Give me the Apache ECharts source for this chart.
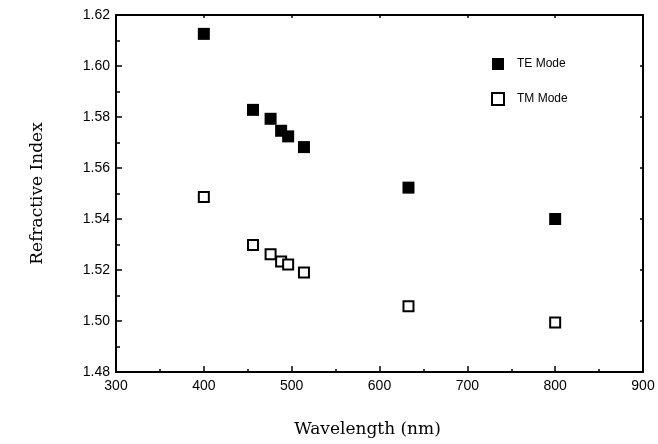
<!DOCTYPE html>
<html>
<head>
<meta charset="utf-8">
<script src="https://cdn.jsdelivr.net/npm/echarts@6/dist/echarts.min.js"></script>
<style>
  html, body { margin: 0; padding: 0; background: #fff; }
  #chart { width: 658px; height: 444px; }
</style>
</head>
<body>
<div id="chart"></div>
<script>
// 波长 (nm)
let wavelength = [400, 456, 476, 488, 496, 514, 633, 800]
// TE 模折射率
let teIndex = [1.6126, 1.5828, 1.5793, 1.5746, 1.5724, 1.5682, 1.5523, 1.5400]
// TM 模折射率
let tmIndex = [1.5486, 1.5298, 1.5262, 1.5233, 1.5222, 1.5190, 1.5058, 1.4994]

let teData = wavelength.map((w, i) => [w, teIndex[i]])
let tmData = wavelength.map((w, i) => [w, tmIndex[i]])

let myChart = echarts.init(document.getElementById('chart'))

let tickStyle = { color: '#000', width: 1.5 }

let option = {
  animation: false,
  backgroundColor: '#fff',
  grid: {
    left: 116,
    right: 15,
    top: 15,
    bottom: 72
  },
  legend: {
    orient: 'vertical',
    left: 486,
    top: 53,
    itemGap: 22,
    itemWidth: 12,
    itemHeight: 12,
    textStyle: {
      fontFamily: 'Liberation Sans',
      fontSize: 12,
      color: '#000',
      padding: [0, 0, 0, 8]
    },
    data: ['TE Mode', 'TM Mode']
  },
  xAxis: [
    {
      type: 'value',
      min: 300,
      max: 900,
      interval: 100,
      name: 'Wavelength (nm)',
      nameLocation: 'middle',
      nameGap: 49,
      nameTextStyle: { fontFamily: 'DejaVu Serif', fontSize: 17, color: '#000', padding: [0, 24, 0, 0] },
      axisLine: { lineStyle: { color: '#000', width: 2 } },
      axisTick: { inside: true, length: 6, lineStyle: tickStyle },
      minorTick: { show: true, splitNumber: 2, length: 3, lineStyle: tickStyle },
      axisLabel: { fontFamily: 'Liberation Sans', fontSize: 14, color: '#000', margin: 7 },
      splitLine: { show: false }
    },
    {
      type: 'value',
      position: 'top',
      min: 300,
      max: 900,
      interval: 100,
      axisLine: { lineStyle: { color: '#000', width: 2 } },
      axisTick: { inside: true, length: 3, lineStyle: tickStyle },
      axisLabel: { show: false },
      splitLine: { show: false }
    }
  ],
  yAxis: [
    {
      type: 'value',
      min: 1.48,
      max: 1.62,
      interval: 0.02,
      name: 'Refractive Index',
      nameLocation: 'middle',
      nameGap: 70,
      nameTextStyle: { fontFamily: 'DejaVu Serif', fontSize: 17, color: '#000' },
      axisLine: { show: true, lineStyle: { color: '#000', width: 2 } },
      axisTick: { show: true, inside: true, length: 6, lineStyle: tickStyle },
      minorTick: { show: true, splitNumber: 2, length: 4, lineStyle: tickStyle },
      axisLabel: {
        fontFamily: 'Liberation Sans',
        fontSize: 14,
        color: '#000',
        margin: 6,
        formatter: v => v.toFixed(2)
      },
      splitLine: { show: false }
    },
    {
      type: 'value',
      position: 'right',
      min: 1.48,
      max: 1.62,
      interval: 0.02,
      axisLine: { show: true, lineStyle: { color: '#000', width: 2 } },
      axisTick: { show: true, inside: true, length: 3, lineStyle: tickStyle },
      axisLabel: { show: false },
      splitLine: { show: false }
    }
  ],
  series: [
    {
      name: 'TE Mode',
      type: 'scatter',
      symbol: 'rect',
      symbolSize: 12,
      itemStyle: { color: '#000', opacity: 1 },
      data: teData
    },
    {
      name: 'TM Mode',
      type: 'scatter',
      symbol: 'rect',
      symbolSize: 10,
      itemStyle: { color: '#fff', borderColor: '#000', borderWidth: 2, opacity: 1 },
      data: tmData
    }
  ]
}

myChart.setOption(option)
</script>
</body>
</html>
